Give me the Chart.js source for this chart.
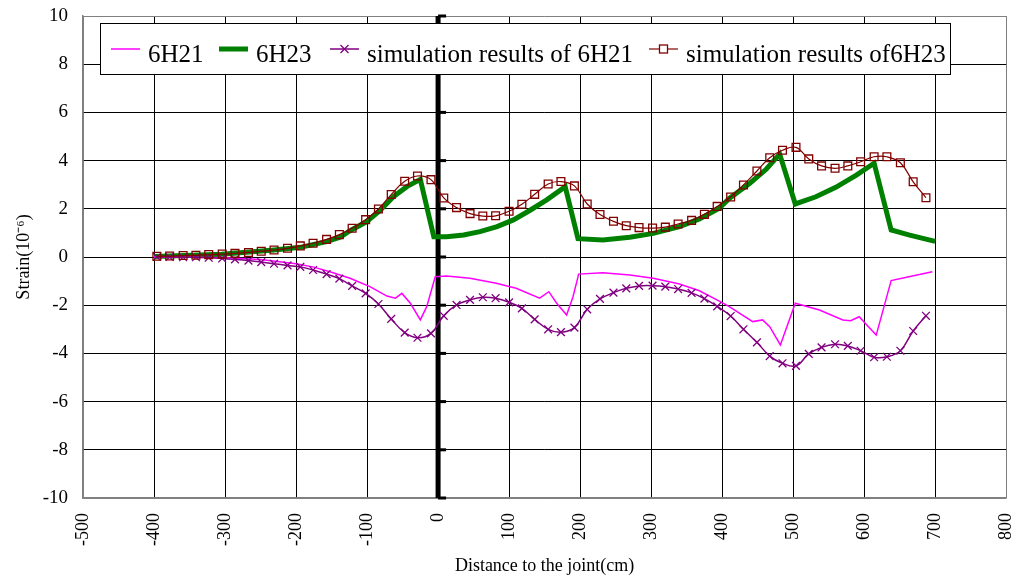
<!DOCTYPE html>
<html lang="en">
<head>
  <meta charset="UTF-8">
  <title>Strain vs distance to the joint</title>
  <script src="https://cdn.jsdelivr.net/npm/chart.js"></script>
  <style>
    html, body { margin: 0; padding: 0; background: #fff; }
    #wrap { width: 1013px; height: 579px; position: relative; }
  </style>
</head>
<body>
<div id="wrap">
  <canvas id="strainChart"></canvas>
</div>

<script>
  // measured 6H21 (thin magenta)
  var dist6H21 = [-400, -350, -300, -250, -200, -175, -150, -124, -96, -72, -60, -51, -39, -25, -16, -4,
                  12, 45, 82, 110, 143, 156, 167, 181, 190, 198, 232, 270, 303, 340, 368, 396,
                  410, 443, 457, 467, 482, 503, 537, 570, 581, 593, 606, 617, 638, 663, 696];
  var strain6H21 = [0.0, -0.01, -0.03, -0.1, -0.28, -0.42, -0.63, -0.88, -1.23, -1.62, -1.71, -1.51, -1.92, -2.61, -2.06, -0.82,
                    -0.79, -0.88, -1.09, -1.30, -1.71, -1.44, -1.92, -2.41, -1.65, -0.71, -0.65, -0.75, -0.88, -1.12, -1.40, -1.83,
                    -2.06, -2.68, -2.61, -2.89, -3.65, -1.92, -2.20, -2.61, -2.64, -2.48, -2.89, -3.24, -0.98, -0.82, -0.61];

  // measured 6H23 (thick green)
  var dist6H23 = [-400, -305, -231, -194, -157, -138, -124, -101, -82, -63, -44, -25, -6, 12, 36, 59, 83, 106, 129,
                  153, 179, 197, 232, 270, 303, 340, 368, 396, 410, 439, 462, 481, 503, 532, 560, 589, 614, 638, 664, 700];
  var strain6H23 = [0.02, 0.11, 0.29, 0.40, 0.64, 0.82, 1.09, 1.46, 1.92, 2.50, 2.92, 3.22, 0.84, 0.84, 0.91, 1.05, 1.26, 1.54, 1.93,
                    2.37, 2.92, 0.76, 0.71, 0.82, 0.98, 1.26, 1.58, 2.02, 2.43, 3.06, 3.64, 4.27, 2.20, 2.50, 2.89, 3.40, 3.89, 1.12, 0.91, 0.65];

  // simulation nodes (shared by both simulation series)
  var simX = [-396, -378, -359, -341, -323, -304, -286, -267, -249, -231,
              -212, -194, -176, -157, -139, -121, -102, -84, -66, -47,
              -29, -10, 8, 26, 45, 63, 81, 100, 118, 136,
              155, 173, 192, 210, 228, 247, 265, 283, 302, 320,
              338, 357, 375, 393, 412, 430, 449, 467, 485, 504,
              522, 540, 559, 577, 595, 614, 632, 651, 669, 687];
  var sim6H21 = [0.00, 0.00, -0.01, -0.01, -0.03, -0.06, -0.10, -0.15, -0.21, -0.28,
                 -0.35, -0.41, -0.54, -0.71, -0.90, -1.20, -1.51, -1.95, -2.57, -3.14,
                 -3.35, -3.17, -2.44, -1.99, -1.78, -1.67, -1.71, -1.88, -2.13, -2.59,
                 -3.00, -3.12, -2.93, -2.17, -1.74, -1.48, -1.30, -1.20, -1.19, -1.23,
                 -1.33, -1.49, -1.73, -2.05, -2.45, -3.00, -3.54, -4.11, -4.41, -4.52,
                 -4.02, -3.75, -3.62, -3.69, -3.89, -4.16, -4.14, -3.89, -3.07, -2.44];
  var sim6H23 = [0.03, 0.04, 0.06, 0.07, 0.10, 0.12, 0.15, 0.19, 0.24, 0.29,
                 0.36, 0.46, 0.57, 0.73, 0.93, 1.19, 1.55, 1.99, 2.59, 3.14,
                 3.36, 3.21, 2.45, 2.05, 1.80, 1.70, 1.71, 1.90, 2.19, 2.60,
                 3.03, 3.13, 2.95, 2.20, 1.76, 1.48, 1.30, 1.22, 1.20, 1.24,
                 1.37, 1.52, 1.77, 2.10, 2.49, 2.99, 3.57, 4.12, 4.43, 4.55,
                 4.07, 3.78, 3.68, 3.78, 3.95, 4.16, 4.16, 3.91, 3.12, 2.46];

  var seriesNames = ['6H21', '6H23', 'simulation results of 6H21', 'simulation results of6H23'];

  function pairs(xs, ys) {
    return xs.map(function (x, i) { return { x: x, y: ys[i] }; });
  }

  var serif = "'Liberation Serif', 'Times New Roman', serif";

  // thick vertical axis through x = 0 with tick stubs
  var zeroAxis = {
    id: 'zeroAxis',
    beforeDatasetsDraw: function (chart) {
      var ctx = chart.ctx, xs = chart.scales.x, ys = chart.scales.y;
      var x0 = xs.getPixelForValue(0);
      ctx.save();
      ctx.fillStyle = '#000';
      ctx.fillRect(x0 - 2.5, chart.chartArea.top, 5, chart.chartArea.bottom - chart.chartArea.top);
      ys.ticks.forEach(function (t) {
        var py = ys.getPixelForValue(t.value);
        ctx.fillRect(x0, py - 1.5, 8, 3);
      });
      ctx.restore();
    }
  };

  // boxed legend sitting inside the plot area
  var boxLegend = {
    id: 'boxLegend',
    afterDatasetsDraw: function (chart) {
      var ctx = chart.ctx;
      ctx.save();
      ctx.fillStyle = '#fff';
      ctx.fillRect(100.5, 23.5, 850, 51);
      ctx.strokeStyle = '#000';
      ctx.lineWidth = 1;
      ctx.strokeRect(100.5, 23.5, 850, 51);

      var starts = [111, 219, 330, 649];
      var ly = 49;
      ctx.font = '25px ' + serif;
      ctx.textBaseline = 'alphabetic';
      chart.data.datasets.forEach(function (ds, i) {
        var sx = starts[i];
        ctx.strokeStyle = ds.borderColor;
        ctx.lineWidth = ds.borderWidth;
        ctx.beginPath();
        ctx.moveTo(sx, ly);
        ctx.lineTo(sx + 29, ly);
        ctx.stroke();
        var cx = sx + 14.5;
        ctx.lineWidth = 1.3;
        if (ds.pointStyle === 'crossRot') {
          ctx.beginPath();
          ctx.moveTo(cx - 4, ly - 4); ctx.lineTo(cx + 4, ly + 4);
          ctx.moveTo(cx + 4, ly - 4); ctx.lineTo(cx - 4, ly + 4);
          ctx.stroke();
        } else if (ds.pointStyle === 'rect') {
          ctx.fillStyle = '#fff';
          ctx.fillRect(cx - 4, ly - 4, 8, 8);
          ctx.strokeRect(cx - 4, ly - 4, 8, 8);
        }
        ctx.fillStyle = '#000';
        ctx.fillText(ds.label, sx + 37, 62);
      });
      ctx.restore();
    }
  };

  var ctx = document.getElementById('strainChart').getContext('2d');
  var strainChart = new Chart(ctx, {
    type: 'scatter',
    data: {
      datasets: [{
        label: seriesNames[0],
        data: pairs(dist6H21, strain6H21),
        showLine: true,
        borderColor: '#ff00ff',
        borderWidth: 1.5,
        pointRadius: 0,
        order: 2
      }, {
        label: seriesNames[1],
        data: pairs(dist6H23, strain6H23),
        showLine: true,
        borderColor: '#008000',
        borderWidth: 5,
        pointRadius: 0,
        order: 2
      }, {
        label: seriesNames[2],
        data: pairs(simX, sim6H21),
        showLine: true,
        tension: 0.4,
        borderColor: '#800080',
        borderWidth: 1.5,
        pointStyle: 'crossRot',
        pointRadius: 5.5,
        pointBorderWidth: 1.3,
        pointBorderColor: '#800080',
        order: 1
      }, {
        label: seriesNames[3],
        data: pairs(simX, sim6H23),
        showLine: true,
        tension: 0.4,
        borderColor: '#800000',
        borderWidth: 1.2,
        pointStyle: 'rect',
        pointRadius: 5.5,
        pointBorderWidth: 1.3,
        pointBorderColor: '#800000',
        pointBackgroundColor: 'rgba(255,255,255,0)',
        order: 0
      }]
    },
    options: {
      responsive: true,
      maintainAspectRatio: false,
      animation: false,
      layout: { padding: { top: 16, right: 6, left: 0, bottom: 0 } },
      plugins: {
        legend: { display: false },
        tooltip: { enabled: false }
      },
      scales: {
        x: {
          type: 'linear',
          min: -500,
          max: 800,
          ticks: {
            stepSize: 100,
            minRotation: 90,
            maxRotation: 90,
            padding: 15,
            color: '#000',
            font: { family: serif, size: 18 }
          },
          grid: {
            drawTicks: false,
            lineWidth: 1,
            color: function (c) {
              return (c.tick && (c.tick.value === 800 || c.tick.value === -500)) ? '#808080' : '#000';
            }
          },
          border: { display: true, color: '#808080', width: 1.5 },
          title: {
            display: true,
            text: 'Distance to the joint(cm)',
            color: '#000',
            font: { family: serif, size: 18 },
            padding: { top: 0, bottom: 2 }
          },
          afterFit: function (scale) {
            scale.height = 81;
            scale.paddingLeft = 0;
            scale.paddingRight = 0;
          }
        },
        y: {
          type: 'linear',
          min: -10,
          max: 10,
          ticks: {
            stepSize: 2,
            padding: 15,
            color: '#000',
            font: { family: serif, size: 19 }
          },
          grid: {
            drawTicks: false,
            lineWidth: 1,
            color: function (c) {
              return (c.tick && (c.tick.value === 10 || c.tick.value === -10)) ? '#808080' : '#000';
            }
          },
          border: { display: true, color: '#808080', width: 1.5 },
          title: {
            display: true,
            text: 'Strain(10⁻⁶)',
            color: '#000',
            font: { family: serif, size: 18 },
            padding: { top: 13, bottom: 0 }
          },
          afterFit: function (scale) {
            scale.width = 83;
            scale.paddingTop = 0;
            scale.paddingBottom = 0;
          }
        }
      }
    },
    plugins: [zeroAxis, boxLegend]
  });
</script>
</body>
</html>
